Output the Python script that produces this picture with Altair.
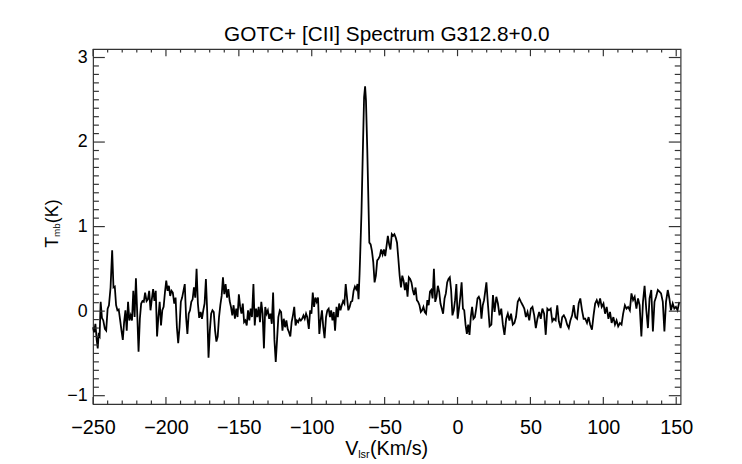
import altair as alt
import pandas as pd

# ---- spectrum values (V_lsr in km/s, T_mb in K) ----
vel_a = [
    -250.0, -249.3, -248.4, -247.5, -246.8, -246.2, -245.5, -244.8, -243.9, -243.0,
    -241.9, -241.0, -240.0, -239.1, -238.0, -236.9, -236.0, -235.1, -234.2, -233.3,
    -232.4, -231.4, -230.5, -229.6, -228.7, -227.8, -226.9, -226.0, -225.1, -224.2,
    -223.3, -222.4, -221.5, -220.6, -219.7, -218.8, -217.9, -217.0, -216.1, -215.2,
    -214.3, -213.3, -212.4, -211.5, -210.6, -209.7, -208.8, -207.9, -207.0, -206.1,
    -205.2, -204.3, -203.4, -202.5, -201.6, -200.7, -199.8, -198.9, -198.0, -197.1,
    -196.2, -195.3, -194.3, -193.4, -192.5, -191.6, -190.7, -189.8, -188.9, -188.0,
    -187.1, -186.2, -185.3, -184.4, -183.5, -182.6, -181.7, -180.8, -179.9, -179.0,
    -178.1, -177.2, -176.2, -175.3, -174.4, -173.5, -172.6, -171.7, -170.8, -169.9,
    -169.0, -168.1, -167.2, -166.3, -165.4, -164.5, -163.6, -162.7, -161.8, -160.9,
    -160.0, -159.1, -158.1, -157.2, -156.3, -155.4, -154.5, -153.6, -152.7, -151.8,
    -150.9, -150.0, -149.1, -148.2, -147.3, -146.4, -145.5, -144.6, -143.7, -142.8,
    -141.9, -141.0, -140.0, -139.1, -138.2, -137.3, -136.4, -135.5, -134.6, -133.7,
    -132.8, -131.9, -131.0, -130.1, -129.2, -128.3, -127.4, -126.5, -125.6, -124.7,
    -123.8, -122.9, -121.9, -121.0, -120.1, -119.2, -118.3, -117.4, -116.5, -115.6,
    -114.7, -113.8, -112.9, -112.0, -111.1, -110.2, -109.3, -108.4, -107.5, -106.6,
    -105.7, -104.8, -103.9, -103.1, -102.0, -101.1, -100.2, -99.3, -98.4, -97.5,
    -96.6, -95.7, -94.8, -93.9, -93.0, -92.1, -91.2, -90.2, -89.3, -88.4,
    -87.5, -86.7, -85.8, -84.9, -84.0, -83.0, -82.1, -81.2, -80.3, -79.4,
    -78.5, -77.6, -76.7, -75.8, -74.9, -74.0, -73.1, -72.2, -71.3, -70.4,
    -69.5, -68.6, -67.9, -67.2,
]
tmb_a = [
    -0.19, -0.25, -0.15, -0.34, -0.44, -0.28, -0.30, 0.11, -0.08, -0.11,
    -0.21, -0.23, 0.03, 0.07, 0.28, 0.72, 0.28, 0.29, 0.07, 0.01,
    0.02, -0.11, -0.23, -0.34, -0.13, 0.01, -0.23, 0.11, -0.11, -0.05,
    -0.11, 0.24, -0.07, 0.39, -0.03, -0.48, -0.09, 0.09, 0.12, 0.11,
    0.22, 0.12, 0.14, 0.24, 0.01, 0.14, 0.26, 0.12, 0.24, -0.30,
    -0.07, 0.11, -0.17, 0.01, 0.05, 0.22, 0.36, 0.24, 0.30, 0.18,
    0.24, 0.22, 0.09, 0.16, -0.19, -0.38, -0.19, 0.11, 0.16, 0.24,
    0.32, -0.07, -0.27, -0.03, 0.01, 0.11, 0.14, 0.28, 0.16, 0.50,
    0.09, -0.08, -0.01, -0.09, 0.01, 0.09, 0.38, -0.01, -0.55, -0.23,
    -0.03, 0.01, -0.01, -0.23, -0.36, -0.30, -0.07, 0.07, 0.18, 0.40,
    0.20, 0.32, 0.16, 0.26, 0.12, 0.05, -0.05, 0.07, -0.09, 0.03,
    -0.07, 0.20, 0.05, -0.03, 0.09, -0.13, -0.11, -0.17, 0.01, -0.11,
    0.03, -0.07, 0.32, -0.17, 0.03, -0.07, 0.05, -0.13, 0.11, -0.03,
    -0.44, 0.05, -0.03, 0.01, -0.09, -0.03, -0.15, 0.22, -0.34, -0.60,
    -0.34, -0.07, 0.01, -0.01, -0.23, -0.09, -0.19, -0.11, -0.21, -0.25,
    -0.30, -0.13, -0.05, 0.05, -0.17, -0.11, -0.13, -0.09, -0.11, -0.09,
    -0.05, -0.09, -0.03, -0.07, -0.21, 0.01, -0.03, 0.22, 0.05, 0.16,
    0.11, 0.16, -0.27, -0.11, 0.01, -0.19, -0.32, -0.07, 0.01, 0.03,
    -0.07, 0.01, -0.11, -0.01, -0.23, 0.05, -0.07, 0.09, 0.01, 0.07,
    0.12, 0.09, 0.32, 0.16, 0.01, 0.05, 0.11, 0.12, 0.24, 0.29,
    0.26, 0.32, 0.14, 0.44,
]
vel_peak = [
    -66.8, -65.9, -65.0, -64.1, -63.4, -62.8, -61.9, -61.0, -60.5, -59.6,
    -58.7, -57.8, -56.9, -56.0, -55.1, -54.2, -53.3, -52.4, -51.4, -50.5,
    -49.6, -48.7, -47.8, -46.9, -46.0, -45.1, -44.2, -43.3, -42.4, -41.5,
    -40.6, -39.7,
]
tmb_peak = [
    0.65, 1.16, 1.86, 2.53, 2.66, 2.49, 1.90, 1.20, 0.81, 0.79,
    0.71, 0.58, 0.34, 0.42, 0.60, 0.62, 0.65, 0.73, 0.67, 0.73,
    0.65, 0.77, 0.89, 0.79, 0.73, 0.91, 0.89, 0.91, 0.87, 0.81,
    0.62, 0.42,
]
vel_c = [
    -38.8, -37.9, -37.0, -36.1, -35.2, -34.3, -33.4, -32.5, -31.6, -30.7,
    -29.8, -28.8, -27.9, -27.0, -26.1, -25.2, -24.3, -23.4, -22.5, -21.6,
    -20.7, -19.8, -18.9, -18.0, -17.1, -16.2, -15.3, -14.4, -13.5, -12.6,
    -11.7, -10.8, -9.9, -8.9, -8.0, -7.1, -6.2, -5.3, -4.4, -3.5,
    -2.6, -1.7, -0.8, 0.1, 1.0, 1.9, 2.8, 3.7, 4.6, 5.5,
    6.4, 7.3, 8.2, 9.1, 10.0, 10.9, 11.9, 12.8, 13.7, 14.6,
    15.5, 16.4, 17.3, 18.2,
]
tmb_c = [
    0.28, 0.42, 0.36, 0.25, 0.34, 0.17, 0.40, 0.38, 0.34, 0.25,
    0.19, 0.28, 0.13, 0.11, 0.07, -0.01, 0.01, 0.05, -0.01, -0.03,
    0.13, 0.07, 0.23, 0.25, 0.15, 0.50, 0.11, 0.17, 0.30, 0.23,
    0.09, 0.03, -0.03, 0.15, 0.21, 0.34, 0.38, 0.40, 0.25, -0.05,
    0.01, 0.13, 0.32, -0.09, 0.03, 0.17, 0.34, 0.03, 0.01, -0.16,
    -0.27, -0.16, -0.28, -0.07, 0.05, -0.09, -0.07, 0.03, 0.15, 0.17,
    0.13, -0.09, 0.07, 0.13,
]
vel_d = [
    19.8, 20.9, 22.0, 23.2, 24.3, 25.4, 26.6, 27.7, 28.8, 30.0,
    31.1, 32.2, 33.4, 34.5, 35.6, 36.7, 37.9, 39.0, 40.1, 41.3,
    42.4, 43.5, 44.7, 45.8, 46.9, 48.0, 49.2, 50.3, 51.4, 52.6,
    53.7, 54.8, 56.0, 57.1, 58.2, 59.4, 60.5, 61.6, 62.7, 63.9,
    65.0, 66.1, 67.3, 68.4, 69.5, 70.7, 71.8, 72.9, 74.1, 75.2,
    76.3, 77.4, 78.6, 79.7, 80.8, 82.0, 83.1, 84.2, 85.4, 86.5,
]
tmb_d = [
    0.34, 0.07, -0.18, -0.16, 0.19, -0.01, 0.17, 0.09, -0.05, 0.03,
    -0.16, -0.28, -0.09, -0.03, -0.11, -0.03, -0.16, -0.14, -0.07, 0.11,
    0.15, 0.11, 0.07, 0.03, -0.07, -0.01, -0.11, 0.03, 0.05, -0.05,
    -0.20, -0.09, -0.01, -0.09, 0.03, -0.03, -0.28, 0.03, 0.01, 0.03,
    -0.12, -0.09, -0.11, 0.07, -0.12, -0.20, -0.07, -0.05, -0.09, -0.16,
    -0.20, -0.11, -0.05, 0.07, -0.07, -0.09, 0.09, 0.15, 0.01, -0.09,
]
vel_e = [
    87.6, 88.8, 89.9, 91.0, 92.2, 93.3, 94.4, 95.5, 96.7, 97.8,
    98.9, 100.1, 101.2, 102.3, 103.5, 104.6, 105.7, 106.9, 108.0, 109.1,
    110.2, 111.4, 112.5, 113.6, 114.8, 115.9, 117.0, 118.2, 119.3, 120.4,
    121.5, 122.7, 123.8, 124.9, 126.1, 127.2, 128.3, 129.5, 130.6, 131.7,
    132.9, 134.0, 135.1, 136.2, 137.4, 138.5, 139.6, 140.8, 141.9, 143.0,
    144.2, 145.3, 146.4, 147.6, 148.7, 149.8, 150.9, 152.1,
]
tmb_e = [
    -0.09, -0.14, -0.07, -0.16, -0.22, -0.05, 0.09, 0.13, 0.07, 0.15,
    0.05, 0.09, -0.03, 0.05, -0.09, -0.01, -0.14, -0.07, -0.16, -0.11,
    -0.18, -0.14, -0.16, -0.03, 0.07, 0.03, 0.05, 0.01, 0.21, 0.13,
    0.17, 0.03, 0.15, 0.07, -0.30, 0.11, 0.30, 0.01, -0.20, 0.15,
    0.25, -0.24, 0.11, 0.17, 0.25, 0.23, 0.21, 0.11, -0.24, 0.11,
    0.25, 0.15, 0.01, 0.09, 0.03, 0.05, 0.01, 0.11,
]

# axis tick positions: major (labelled) and minor ticks
x_major_ticks = [-250, -200, -150, -100, -50, 0, 50, 100, 150]
x_minor_ticks = [v for v in range(-250, 151, 10) if v % 50 != 0]
y_major_ticks = [-1, 0, 1, 2, 3]
y_minor_ticks = [round(-1.0 + 0.1 * i, 1) for i in range(41) if i % 10 != 0]

velocity = vel_a + vel_peak + vel_c + vel_d + vel_e
tmb = tmb_a + tmb_peak + tmb_c + tmb_d + tmb_e
df = pd.DataFrame({"v": velocity, "t": tmb})

W, H = 594, 359
FONT = "Liberation Sans"
FRAME = "#333333"
X_MAJ, X_MIN = 7.2, 3.6     # tick lengths on the horizontal edges
Y_MAJ, Y_MIN = 11.9, 5.9    # tick lengths on the vertical edges

xscale = alt.Scale(domain=[-250, 153], nice=False, zero=False)
yscale = alt.Scale(domain=[-1.1, 3.1], nice=False, zero=False)

line = alt.Chart(df).mark_line(color="black", strokeWidth=1.8).encode(
    x=alt.X("v:Q", scale=xscale, axis=alt.Axis(
        orient="bottom", values=x_major_ticks, ticks=False, tickSize=0, grid=False,
        domain=False, labelOverlap=False, labelFlush=False, title=None,
        labelFont=FONT, labelFontSize=20, labelColor="black",
        labelBaseline="alphabetic", labelPadding=30)),
    y=alt.Y("t:Q", scale=yscale, axis=alt.Axis(
        orient="left", values=y_major_ticks, ticks=False, tickSize=0, grid=False,
        domain=False, labelOverlap=False, labelFlush=False, title=None,
        labelFont=FONT, labelFontSize=18, labelColor="black", labelPadding=6)),
)


def xticks(values, y0, y1):
    return alt.Chart(pd.DataFrame({"v": values})).mark_rule(
        color=FRAME, strokeWidth=1.2).encode(
        x=alt.X("v:Q", scale=xscale, axis=None), y=alt.value(y0), y2=alt.value(y1))


def yticks(values, x0, x1):
    return alt.Chart(pd.DataFrame({"t": values})).mark_rule(
        color=FRAME, strokeWidth=1.2).encode(
        y=alt.Y("t:Q", scale=yscale, axis=None), x=alt.value(x0), x2=alt.value(x1))


ticks = [
    xticks(x_major_ticks, H, H - X_MAJ), xticks(x_minor_ticks, H, H - X_MIN),
    xticks(x_major_ticks, 0, X_MAJ), xticks(x_minor_ticks, 0, X_MIN),
    yticks(y_major_ticks, 0, Y_MAJ), yticks(y_minor_ticks, 0, Y_MIN),
    yticks(y_major_ticks, W, W - Y_MAJ), yticks(y_minor_ticks, W, W - Y_MIN),
]


def label(text, x, y, size, angle=0):
    return alt.Chart(alt.Data(values=[{}])).mark_text(
        text=text, font=FONT, fontSize=size, align="left",
        baseline="alphabetic", angle=angle, color="black",
    ).encode(x=alt.value(x), y=alt.value(y))


x_title = [label("V", 255, 410, 20), label("lsr", 268, 413, 11), label("(Km/s)", 280, 410, 20)]
y_title = [label("T", -35, 201, 18, 270), label("mb", -33, 190, 10, 270),
           label("(K)", -35, 176, 18, 270)]

chart = alt.layer(line, *ticks, *x_title, *y_title).resolve_axis(
    x="independent", y="independent"
).properties(
    width=W, height=H,
    title=alt.TitleParams("GOTC+ [CII] Spectrum G312.8+0.0", font=FONT, fontSize=21,
                          fontWeight="normal", color="black", anchor="middle",
                          frame="group", offset=4),
    autosize=alt.AutoSizeParams(type="none"),
    padding={"left": 86, "top": 39, "right": 54, "bottom": 57},
    background="white",
).configure_view(stroke=FRAME, strokeWidth=1.2)

chart.save("out.html", embed_options={"renderer": "svg", "actions": False})
